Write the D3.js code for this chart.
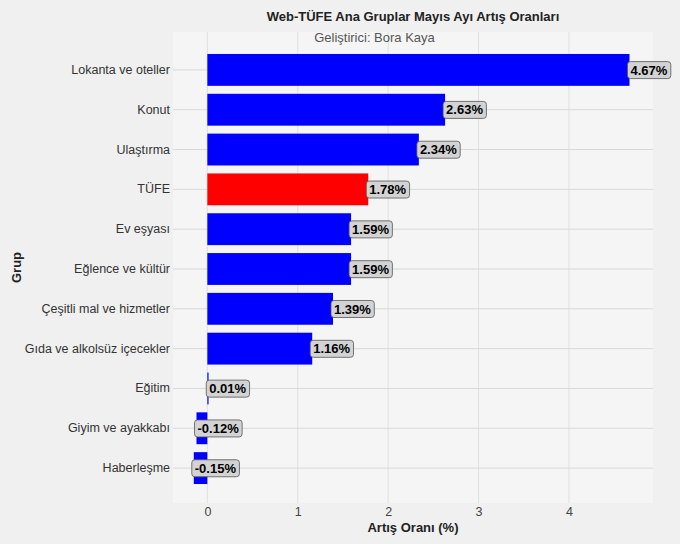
<!DOCTYPE html>
<html>
<head>
<meta charset="utf-8">
<script src="https://cdn.jsdelivr.net/npm/d3@7"></script>
<style>
	body { margin: 0; background: #f0f0f0; }
	svg { display: block; font-family: "Liberation Sans", Arial, sans-serif; }
</style>
</head>
<body>
<div id="chart"></div>
<script>
// Data
var groups = [
	"Lokanta ve oteller",
	"Konut",
	"Ulaştırma",
	"TÜFE",
	"Ev eşyası",
	"Eğlence ve kültür",
	"Çeşitli mal ve hizmetler",
	"Gıda ve alkolsüz içecekler",
	"Eğitim",
	"Giyim ve ayakkabı",
	"Haberleşme",
];
var rates = [4.67, 2.63, 2.34, 1.78, 1.59, 1.59, 1.39, 1.16, 0.01, -0.12, -0.15];
var xTicks = [0, 1, 2, 3, 4];

var width = 680,
	height = 544;
var plotLeft = 173,
	plotRight = 653,
	plotTop = 32,
	plotBottom = 503;

var data = groups.map((g, i) => ({ name: g, value: rates[i] }));

var svg = d3
	.select("#chart")
	.append("svg")
	.attr("width", width)
	.attr("height", height);

svg.append("rect").attr("width", width).attr("height", height).attr("fill", "#f0f0f0");

// Plot area
svg
	.append("rect")
	.attr("x", plotLeft)
	.attr("y", plotTop)
	.attr("width", plotRight - plotLeft)
	.attr("height", plotBottom - plotTop)
	.attr("fill", "#f5f5f5");

// Scales
const x = d3.scaleLinear().domain([-0.38, 4.93]).range([plotLeft, plotRight]);
const y = d3
	.scaleBand()
	.domain(groups)
	.range([50, 488])
	.paddingInner(0.2)
	.paddingOuter(0.1);

// Grid lines
svg
	.append("g")
	.selectAll("line")
	.data(xTicks)
	.join("line")
	.attr("x1", (d) => x(d))
	.attr("x2", (d) => x(d))
	.attr("y1", plotTop)
	.attr("y2", plotBottom)
	.attr("stroke", "#e0e0e0")
	.attr("stroke-width", 1);
svg
	.append("g")
	.selectAll("line")
	.data(groups)
	.join("line")
	.attr("x1", plotLeft)
	.attr("x2", plotRight)
	.attr("y1", (d) => y(d) + y.bandwidth() / 2)
	.attr("y2", (d) => y(d) + y.bandwidth() / 2)
	.attr("stroke", "#d8d8d8")
	.attr("stroke-width", 1);

// Bars
svg
	.append("g")
	.selectAll("rect")
	.data(data)
	.join("rect")
	.attr("x", (d) => x(Math.min(0, d.value)))
	.attr("y", (d) => y(d.name))
	.attr("width", (d) => Math.max(1.2, Math.abs(x(d.value) - x(0))))
	.attr("height", y.bandwidth())
	.attr("fill", (d) => (d.name == "TÜFE" ? "#ff0000" : "#0000ff"));

// Axes
svg
	.append("g")
	.attr("transform", `translate(0,${plotBottom})`)
	.call(d3.axisBottom(x).tickValues(xTicks).tickSize(0).tickPadding(4).tickFormat(d3.format("d")))
	.call((g) => g.select(".domain").remove())
	.call((g) => g.selectAll("text").attr("font-size", 12.5).attr("fill", "#444").attr("font-family", null));

svg
	.append("g")
	.attr("transform", `translate(${plotLeft},0)`)
	.call(d3.axisLeft(y).tickSize(0).tickPadding(3))
	.call((g) => g.select(".domain").remove())
	.call((g) => g.selectAll("text").attr("font-size", 12.5).attr("fill", "#333").attr("font-family", null));

// Value labels
const labels = svg
	.append("g")
	.selectAll("g")
	.data(data)
	.join("g")
	.attr("transform", (d) => `translate(${x(d.value) + 1},${y(d.name) + y.bandwidth() / 2})`);

labels
	.append("text")
	.attr("dy", "0.36em")
	.attr("font-size", 13)
	.attr("font-weight", "bold")
	.attr("fill", "#000")
	.text((d) => d.value.toFixed(2) + "%")
	.each(function () {
		const bb = this.getBBox();
		d3.select(this.parentNode)
			.insert("rect", "text")
			.attr("x", bb.x - 3)
			.attr("y", bb.y - 1)
			.attr("width", bb.width + 6)
			.attr("height", bb.height + 2)
			.attr("rx", 3)
			.attr("fill", "#d3d3d3")
			.attr("stroke", "#555")
			.attr("stroke-width", 0.8);
	});

// Titles
svg
	.append("text")
	.attr("x", (plotLeft + plotRight) / 2)
	.attr("y", 21)
	.attr("text-anchor", "middle")
	.attr("font-size", 13)
	.attr("font-weight", "bold")
	.attr("fill", "#222")
	.text("Web-TÜFE Ana Gruplar Mayıs Ayı Artış Oranları");

svg
	.append("text")
	.attr("x", 374.5)
	.attr("y", 42)
	.attr("text-anchor", "middle")
	.attr("font-size", 13)
	.attr("fill", "#555")
	.text("Geliştirici: Bora Kaya");

svg
	.append("text")
	.attr("x", (plotLeft + plotRight) / 2)
	.attr("y", 532)
	.attr("text-anchor", "middle")
	.attr("font-size", 13)
	.attr("font-weight", "bold")
	.attr("fill", "#222")
	.text("Artış Oranı (%)");

svg
	.append("text")
	.attr("transform", `translate(21,${(plotTop + plotBottom) / 2}) rotate(-90)`)
	.attr("text-anchor", "middle")
	.attr("font-size", 13)
	.attr("font-weight", "bold")
	.attr("fill", "#222")
	.text("Grup");
</script>
</body>
</html>
